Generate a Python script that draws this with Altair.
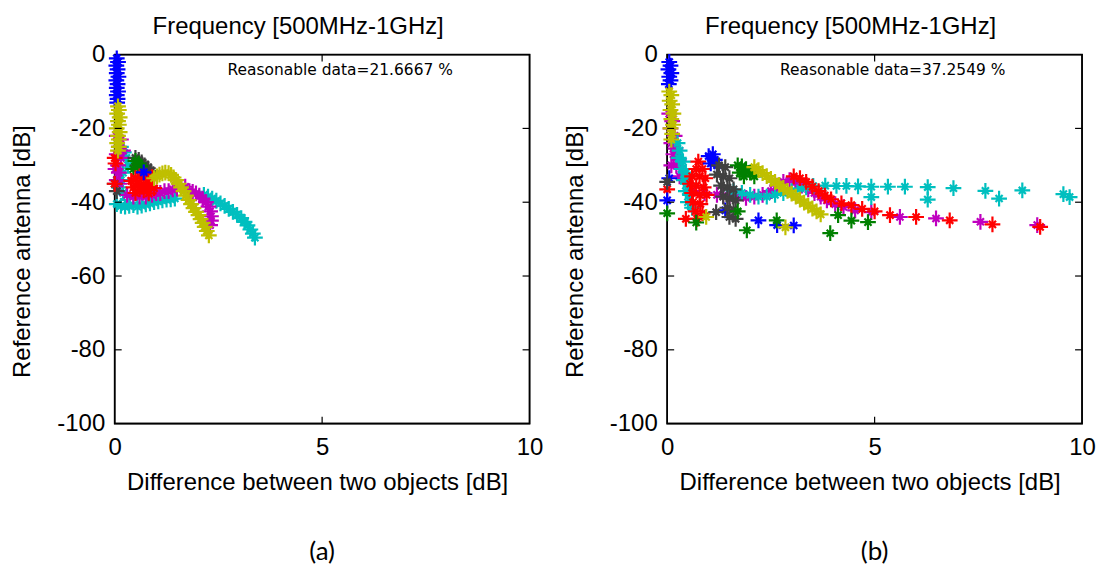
import altair as alt
import pandas as pd

W, H = 416, 370
X_TICKS = [0, 5, 10]
Y_TICKS = [0, -20, -40, -60, -80, -100]
INNER_X_TICKS = [5]
INNER_Y_TICKS = [-20, -40, -60, -80]
TITLE = "Frequency [500MHz-1GHz]"
X_TITLE = "Difference between two objects [dB]"
Y_TITLE = "Reference antenna [dB]"
COLOR_NAMES = ["blue", "green", "red", "cyan", "magenta", "olive", "gray"]
COLOR_VALUES = ["#0000ff", "#008000", "#ff0000", "#00bfbf", "#bf00bf", "#bfbf00", "#404040"]

ANNOT_A = "Reasonable data=21.6667 %"
ANNOT_B = "Reasonable data=37.2549 %"
ANNOT_POS = (2.72, -4.3)
PANEL_LABELS = ["(a)", "(b)"]

# ---------------- panel (a) ----------------
A_CYAN = [(0.05, -40.5), (0.15, -41.0), (0.25, -41.2), (0.35, -41.0), (0.45, -40.8), (0.55, -41.2),
          (0.65, -40.9), (0.75, -40.6), (0.85, -40.3), (0.95, -40.0), (1.05, -39.8), (1.15, -39.5),
          (1.25, -39.3), (1.35, -39.2), (1.45, -39.0),
          (0.15, -25), (0.22, -26.5), (0.28, -28), (0.32, -30), (0.2, -32), (0.15, -34), (0.1, -36), (0.2, -37.5),
          (2.15, -38.0), (2.25, -38.5), (2.35, -39.0), (2.45, -39.6), (2.55, -40.3), (2.65, -41.0),
          (2.75, -41.8), (2.85, -42.6), (2.95, -43.4), (3.05, -44.3), (3.13, -45.3), (3.2, -46.3),
          (3.27, -47.4), (3.33, -48.5), (3.38, -49.6)]
A_MAGENTA = [(0.05, -22), (0.15, -23), (0.1, -25), (0.2, -26), (0.05, -27), (0.15, -28), (0.08, -30),
             (0.02, -31), (0.1, -32), (0.05, -34), (0.12, -35),
             (0.3, -38), (0.45, -38.5), (0.6, -38.5), (0.75, -38.5), (0.9, -38), (1.0, -37.5), (1.1, -37.5),
             (1.2, -37), (1.3, -37), (1.4, -36.5), (1.5, -36.3), (1.6, -36), (1.7, -35.8),
             (1.8, -37.0), (1.88, -37.2), (1.96, -37.6), (2.04, -38.2), (2.12, -39.0), (2.2, -40.0),
             (2.26, -41.2), (2.3, -42.5), (2.32, -43.8), (2.32, -45.0), (2.3, -46.2)]
A_GRAY = [(0.5, -28.0), (0.58, -28.5), (0.65, -29.2), (0.72, -30.0), (0.8, -30.8), (0.87, -31.6),
          (0.93, -32.4), (0.55, -30), (0.62, -31), (0.0, -35), (0.05, -37)]
A_GREEN = [(0.5, -28.8), (0.58, -29.5), (0.62, -30.2), (0.45, -31)]
A_RED = [(0.5, -33.5), (0.6, -33), (0.7, -33.5), (0.8, -34), (0.55, -35), (0.65, -35.5), (0.75, -35.5),
         (0.85, -35.8), (0.6, -36.5), (0.7, -36.8), (0.45, -36.0), (0.9, -33.2), (0.95, -36.2),
         (0.5, -37.5), (0.82, -37.6), (0.4, -34.2), (0.0, -28), (0.02, -29.5), (0.0, -35)]
A_BLUE = [(0.05, -1), (0.08, -2), (0.04, -3), (0.07, -4), (0.05, -5), (0.09, -6), (0.04, -7), (0.07, -8),
          (0.05, -9), (0.08, -10), (0.05, -11), (0.07, -12), (0.06, -13), (0.7, -31.9)]
A_OLIVE = [(0.08, -14), (0.1, -15), (0.06, -16), (0.12, -17), (0.08, -18), (0.1, -19), (0.05, -20),
           (0.12, -21), (0.08, -22), (0.1, -23), (0.06, -24), (0.1, -25), (0.08, -26),
           (0.95, -33.5), (1.02, -33.0), (1.08, -32.5), (1.15, -32.2), (1.22, -32.0), (1.30, -32.1),
           (1.36, -32.6), (1.42, -33.3), (1.48, -34.0), (1.54, -35.0), (1.60, -36.0), (1.66, -37.0),
           (1.72, -38.2), (1.78, -39.4), (1.84, -40.5), (1.90, -41.6), (1.96, -42.6), (2.02, -43.5),
           (2.07, -44.6), (2.12, -45.6), (2.17, -46.7), (2.22, -47.8), (2.27, -49.0)]

SERIES_A = [("cyan", A_CYAN), ("magenta", A_MAGENTA), ("gray", A_GRAY), ("green", A_GREEN),
            ("red", A_RED), ("blue", A_BLUE), ("olive", A_OLIVE)]

# ---------------- panel (b) ----------------
B_MAGENTA = [(0.05, -16), (0.12, -18), (0.08, -20), (0.18, -22), (0.1, -24), (0.2, -25.5), (0.15, -27),
             (0.28, -28.5), (0.22, -30), (0.35, -31), (0.1, -30), (0.3, -33),
             (0.6, -37), (0.9, -37.5), (1.2, -38), (1.35, -38.3),
             (1.5, -38.5), (1.7, -38.5), (1.9, -38.8), (2.1, -38.5), (2.3, -38), (2.5, -37), (2.65, -35.5),
             (2.8, -34.5), (2.95, -34), (3.1, -34.5), (3.25, -35.5), (3.4, -36.5), (3.55, -37.5),
             (3.7, -38.5), (3.85, -39.5), (4.05, -40.5), (4.25, -41.3), (4.53, -42.2), (4.92, -42.7),
             (5.61, -44), (6.48, -44.4), (7.55, -45.3), (8.92, -46.2)]
B_CYAN = [(0.25, -24), (0.3, -26), (0.28, -28), (0.38, -29), (0.35, -31), (0.45, -32), (0.4, -34),
          (0.5, -35), (0.45, -37), (0.55, -38), (0.5, -40), (0.6, -41.5),
          (1.6, -37), (1.8, -37.5), (2.0, -38), (2.2, -38.5), (2.4, -38.5), (2.6, -38), (2.8, -37.5),
          (3.0, -37), (3.2, -36.3), (3.35, -36), (3.52, -35.6), (3.81, -35.5), (4.08, -35.6),
          (4.32, -35.6), (4.6, -35.7), (4.92, -35.8), (4.92, -38.6), (5.32, -35.8), (5.73, -35.8),
          (6.28, -35.9), (6.28, -39.3), (6.9, -36.2), (7.67, -36.9), (8.0, -39.0), (8.56, -36.8),
          (9.55, -37.8), (9.7, -38.6)]
B_RED = [(0.75, -29), (0.7, -31), (0.85, -31), (0.6, -33), (0.78, -33), (0.92, -33.5), (0.55, -35),
         (0.7, -35.5), (0.88, -36), (0.6, -37.5), (0.78, -38), (0.95, -38), (0.62, -40), (0.8, -40.5),
         (0.68, -42.5), (0.85, -43), (0.72, -44.5), (0.0, -36.5), (0.45, -44.5),
         (3.05, -33), (3.2, -33.5), (3.35, -34.5), (3.5, -35.8), (3.65, -37), (3.8, -38.2),
         (3.95, -39.2), (4.2, -40.3), (4.44, -40.8), (4.7, -41.8), (5.0, -42.5), (5.37, -43.5),
         (6.0, -44), (6.81, -44.9), (7.84, -46), (8.99, -46.7)]
B_BLUE = [(0.05, -2), (0.08, -3), (0.03, -4), (0.1, -5), (0.05, -6), (0.08, -7), (0.04, -8),
          (1.0, -27.5), (1.1, -27.0), (1.15, -28.5), (1.05, -29.5), (1.2, -30),
          (0.05, -33.5), (0.0, -39.5), (1.4, -42.2), (2.2, -44.9), (2.65, -46.2), (3.05, -46.3)]
B_GRAY = [(1.25, -30), (1.4, -30.5), (1.2, -32.5), (1.35, -33), (1.5, -33.5), (1.3, -35.5), (1.45, -36),
          (1.6, -36.5), (1.35, -38.5), (1.5, -39), (1.65, -39.5), (1.45, -41.5), (1.6, -42),
          (1.5, -44), (1.65, -44.5), (1.18, -42.7), (0.0, -34.5)]
B_GREEN = [(1.7, -30), (1.8, -30.3), (1.9, -31), (2.0, -32), (2.1, -33), (1.75, -32), (1.85, -33),
           (0.0, -43), (0.7, -45.5), (1.7, -42.5), (1.92, -47.6), (2.64, -44.9), (3.93, -48.4),
           (4.12, -43.5), (4.44, -45), (4.84, -45.4)]
B_OLIVE = [(0.05, -10), (0.1, -11), (0.06, -12.5), (0.12, -13.5), (0.08, -15), (0.15, -16), (0.1, -17.5),
           (0.14, -19), (0.08, -20), (0.12, -21.5), (0.1, -23),
           (2.1, -30.5), (2.2, -31.3), (2.3, -32.1), (2.4, -32.9), (2.5, -33.7), (2.6, -34.5),
           (2.7, -35.3), (2.8, -36.1), (2.9, -36.9), (3.0, -37.7), (3.1, -38.5), (3.2, -39.3),
           (3.3, -40.1), (3.4, -40.9), (3.5, -41.7), (3.6, -42.5), (3.7, -43.3),
           (0.94, -44), (2.85, -46.8)]

SERIES_B = [("magenta", B_MAGENTA), ("cyan", B_CYAN), ("red", B_RED), ("blue", B_BLUE),
            ("gray", B_GRAY), ("green", B_GREEN), ("olive", B_OLIVE)]

STAR = "M-1,0L1,0M0,-1L0,1M-0.45,-0.45L0.45,0.45M-0.45,0.45L0.45,-0.45"
FONT = "Liberation Sans"


def make_df(series):
    rows = []
    for name, pts in series:
        for x, y in pts:
            rows.append({"x": x, "y": y, "c": name})
    return pd.DataFrame(rows)


X_ENC = alt.X("x:Q", scale=alt.Scale(domain=[0, 10], nice=False, zero=False),
              axis=alt.Axis(values=X_TICKS, title=X_TITLE, ticks=False, domain=False, grid=False,
                            labelFlush=False, labelPadding=12, minExtent=36, maxExtent=36, titlePadding=11,
                            titleX=W / 2 - 5, labelExpr="datum.value + ''"))
Y_ENC = alt.Y("y:Q", scale=alt.Scale(domain=[-100, 0], nice=False, zero=False),
              axis=alt.Axis(values=Y_TICKS, title=Y_TITLE, ticks=False, domain=False, grid=False,
                            labelFlush=False, labelPadding=10, minExtent=58, maxExtent=58, titlePadding=22,
                            titleY=H / 2 + 12, labelExpr="datum.value + ''"))


def panel(series, annot, label):
    df = make_df(series)
    frame = alt.Chart(pd.DataFrame({"t": [label]})).mark_rect(
        fill=None, stroke="black", strokeWidth=1.6).encode(
        x=alt.value(0), x2=alt.value(W), y=alt.value(0), y2=alt.value(H))
    pts = alt.Chart(df).mark_point(shape=STAR, filled=False, size=250, strokeWidth=2.2, opacity=1).encode(
        x=X_ENC, y=Y_ENC,
        color=alt.Color("c:N", scale=alt.Scale(domain=COLOR_NAMES, range=COLOR_VALUES), legend=None))
    ydf = pd.DataFrame({"y": INNER_Y_TICKS})
    xdf = pd.DataFrame({"x": INNER_X_TICKS})
    lt = alt.Chart(ydf).mark_rule(color="black", strokeWidth=1.2).encode(
        y=Y_ENC, x=alt.value(0), x2=alt.value(7))
    rt = alt.Chart(ydf).mark_rule(color="black", strokeWidth=1.2).encode(
        y=Y_ENC, x=alt.value(W - 7), x2=alt.value(W))
    bt = alt.Chart(xdf).mark_rule(color="black", strokeWidth=1.2).encode(
        x=X_ENC, y=alt.value(H - 7), y2=alt.value(H))
    tt = alt.Chart(xdf).mark_rule(color="black", strokeWidth=1.2).encode(
        x=X_ENC, y=alt.value(0), y2=alt.value(7))
    adf = pd.DataFrame({"x": [ANNOT_POS[0]], "y": [ANNOT_POS[1]], "t": [annot]})
    ann = alt.Chart(adf).mark_text(align="left", baseline="middle", font="DejaVu Sans", fontSize=15.5,
                                   color="black").encode(x=X_ENC, y=Y_ENC, text="t:N")
    ldf = pd.DataFrame({"t": [label]})
    lab = alt.Chart(ldf).mark_text(align="center", baseline="middle", font="Lato", fontSize=26,
                                   color="black").encode(text="t:N", x=alt.value(W / 2), y=alt.value(H + 129))
    return alt.layer(frame, pts, lt, rt, bt, tt, ann, lab).properties(
        width=W, height=H,
        title=alt.TitleParams(TITLE, font=FONT, fontSize=24, fontWeight="normal", color="black",
                              anchor="middle", dx=-24, offset=4))


chart = alt.hconcat(panel(SERIES_A, ANNOT_A, PANEL_LABELS[0]),
                    panel(SERIES_B, ANNOT_B, PANEL_LABELS[1]),
                    spacing=138, bounds="flush").properties(
    padding={"left": 10, "top": 13, "right": 5, "bottom": 0},
    background="white"
).configure_view(stroke="black", strokeWidth=1.5).configure_axis(
    labelFont=FONT, labelFontSize=24, labelColor="black", titleFont=FONT, titleFontSize=24,
    titleFontWeight="normal", titleColor="black")

chart.save("out.html", embed_options={"renderer": "svg", "actions": False})
